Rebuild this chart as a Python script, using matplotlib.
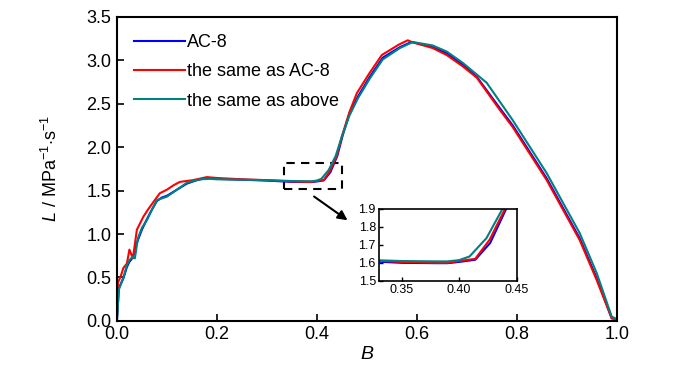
import matplotlib
matplotlib.use('Agg')
import matplotlib.pyplot as plt
from matplotlib.patches import Rectangle

plt.rcParams['font.family'] = ['Liberation Sans', 'DejaVu Sans']
plt.rcParams['mathtext.fontset'] = 'custom'
plt.rcParams['mathtext.rm'] = 'Liberation Sans'
plt.rcParams['mathtext.it'] = 'Liberation Sans:italic'

# AC-8
b_blue = [0, 0.004, 0.013, 0.02, 0.025, 0.032, 0.04, 0.05, 0.06, 0.07, 0.08, 0.09, 0.1,
          0.12, 0.14, 0.16, 0.18, 0.2, 0.25, 0.3, 0.35, 0.38, 0.39, 0.40, 0.414, 0.427,
          0.441, 0.452, 0.465, 0.482, 0.506, 0.532, 0.566, 0.585, 0.59, 0.632, 0.66,
          0.692, 0.72, 0.766, 0.792, 0.86, 0.926, 0.96, 0.99, 1.0]
l_blue = [0, 0.38, 0.49, 0.62, 0.68, 0.73, 0.90, 1.05, 1.17, 1.28, 1.38, 1.42, 1.44,
          1.51, 1.58, 1.62, 1.645, 1.635, 1.625, 1.615, 1.60, 1.598, 1.598, 1.605, 1.617,
          1.71, 1.90, 2.14, 2.38, 2.58, 2.81, 3.03, 3.15, 3.20, 3.21, 3.15, 3.08,
          2.95, 2.81, 2.45, 2.25, 1.64, 0.95, 0.49, 0.03, 0.02]

# the same as AC-8
b_red = [0, 0.002, 0.008, 0.013, 0.02, 0.025, 0.032, 0.04, 0.053, 0.062, 0.072, 0.086,
         0.1, 0.113, 0.126, 0.152, 0.18, 0.2, 0.25, 0.3, 0.35, 0.38, 0.39, 0.40, 0.414,
         0.4265, 0.44, 0.45, 0.465, 0.48, 0.504, 0.53, 0.564, 0.582, 0.59, 0.632, 0.66,
         0.692, 0.72, 0.766, 0.792, 0.86, 0.926, 0.96, 0.99, 1.0]
l_red = [0, 0.44, 0.52, 0.61, 0.66, 0.82, 0.72, 1.05, 1.20, 1.28, 1.36, 1.47,
         1.51, 1.56, 1.60, 1.62, 1.655, 1.645, 1.63, 1.62, 1.605, 1.60, 1.60, 1.61, 1.622,
         1.728, 1.90, 2.12, 2.40, 2.62, 2.84, 3.06, 3.18, 3.23, 3.21, 3.14, 3.06,
         2.93, 2.80, 2.43, 2.23, 1.62, 0.93, 0.47, 0.03, 0.02]

# the same as above
b_teal = [0, 0.004, 0.013, 0.02, 0.025, 0.032, 0.036, 0.042, 0.05, 0.06, 0.07, 0.08,
          0.09, 0.1, 0.12, 0.14, 0.166, 0.186, 0.2, 0.25, 0.3, 0.35, 0.38, 0.39, 0.40,
          0.409, 0.4238, 0.4378, 0.45, 0.465, 0.482, 0.506, 0.532, 0.566, 0.592, 0.632,
          0.66, 0.692, 0.74, 0.792, 0.86, 0.926, 0.96, 0.99, 1.0]
l_teal = [0, 0.36, 0.50, 0.64, 0.70, 0.74, 0.72, 0.95, 1.07, 1.16, 1.28, 1.39,
          1.41, 1.43, 1.51, 1.59, 1.63, 1.635, 1.63, 1.625, 1.62, 1.61, 1.608, 1.608, 1.615,
          1.635, 1.737, 1.90, 2.12, 2.36, 2.56, 2.79, 3.01, 3.14, 3.21, 3.17, 3.10,
          2.97, 2.74, 2.31, 1.70, 1.01, 0.55, 0.05, 0.02]

labels = ['AC-8', 'the same as AC-8', 'the same as above']
colors = ['#0000ff', '#ff0000', '#008080']
series = [(b_blue, l_blue), (b_red, l_red), (b_teal, l_teal)]

fig = plt.figure(figsize=(7, 3.74), dpi=100)
ax = fig.add_axes([0.167, 0.142, 0.714, 0.813])
for (b, l), c, lab in zip(series, colors, labels):
    ax.plot(b, l, color=c, lw=1.5, label=lab)

ax.set_xlim(0, 1.0)
ax.set_ylim(0, 3.5)
ax.set_xticks([0, 0.2, 0.4, 0.6, 0.8, 1.0])
ax.set_yticks([0, 0.5, 1.0, 1.5, 2.0, 2.5, 3.0, 3.5])
ax.xaxis.set_major_formatter(matplotlib.ticker.FormatStrFormatter('%.1f'))
ax.yaxis.set_major_formatter(matplotlib.ticker.FormatStrFormatter('%.1f'))
ax.tick_params(direction='in', length=5, width=1.2, labelsize=13, pad=4)
for s in ax.spines.values():
    s.set_linewidth(1.5)
ax.set_xlabel('$B$', fontsize=14, labelpad=2)
ax.set_ylabel(r'$L$ / MPa$^{-1}$$\cdot$s$^{-1}$', fontsize=13, labelpad=18)
ax.legend(loc='upper left', frameon=False, fontsize=13, handlelength=2.8,
          handletextpad=0.15, labelspacing=0.68, borderaxespad=0.45,
          borderpad=0.5)

ax.add_patch(Rectangle((0.335, 1.52), 0.115, 0.30, fill=False, ls=(0, (4, 3)),
                       lw=1.5, ec='black'))
ax.annotate('', xy=(0.466, 1.14), xytext=(0.39, 1.45),
            arrowprops=dict(arrowstyle='-|>', color='black', lw=1.5, mutation_scale=14))

ins = fig.add_axes([0.541, 0.249, 0.197, 0.193])
for (b, l), c in zip(series, colors):
    ins.plot(b, l, color=c, lw=1.5)
ins.set_xlim(0.33, 0.45)
ins.set_ylim(1.5, 1.9)
ins.set_xticks([0.35, 0.40, 0.45])
ins.set_yticks([1.5, 1.6, 1.7, 1.8, 1.9])
ins.xaxis.set_major_formatter(matplotlib.ticker.FormatStrFormatter('%.2f'))
ins.yaxis.set_major_formatter(matplotlib.ticker.FormatStrFormatter('%.1f'))
ins.tick_params(direction='in', length=3, width=1, labelsize=9, pad=2)
for s in ins.spines.values():
    s.set_linewidth(1.2)

fig.savefig('out.png', dpi=100)
